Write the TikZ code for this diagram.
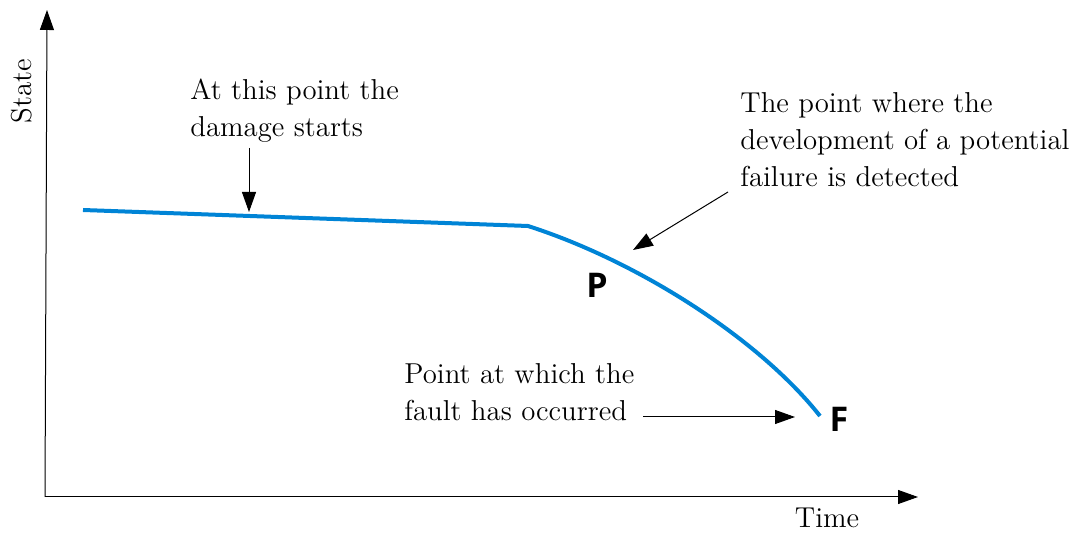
\documentclass[tikz,border=0pt]{standalone}
\usepackage{fontspec}
\newfontfamily\labelfont{Open Sans}
\usetikzlibrary{arrows.meta}
\definecolor{curveblue}{RGB}{0,132,214}
\begin{document}
\begin{tikzpicture}[x=0.5pt,y=-0.5pt,
  txt/.style={font=\fontsize{14.4}{18.5}\selectfont, inner sep=0pt, align=left},
  axis/.style={line width=0.5pt, -{Triangle[length=10pt,width=7pt]}},
  pointer/.style={line width=0.5pt, -{Triangle[length=10pt,width=7pt]}},
  pt/.style={font=\labelfont\bfseries\fontsize{17}{20}\selectfont, inner sep=0pt},
  curve/.style={curveblue, line width=2pt}]
\useasboundingbox (0,0) rectangle (1073,533);
% axes
\coordinate (O) at (45,497);
\coordinate (Ytop) at (47,10);
\coordinate (Xend) at (918,497);
\draw[axis] (O) -- (Ytop);
\draw[axis] (O) -- (Xend);
\node[txt, rotate=90] (state) at (22,91) {State};
\node[txt, anchor=base] (time) at (827,528) {Time};
% curve
\coordinate (c0) at (83,210);
\coordinate (c1) at (528,226);
\coordinate (c2) at (820,416);
\draw[curve] (c0) -- (c1) .. controls (640,262) and (760,340) .. (c2);
% labels
\node[pt] (P) at (597,285) {P};
\node[pt] (F) at (839,419) {F};
% annotations (base anchor = baseline of last line)
\node[txt, anchor=base west] (t1) at (190,137) {At this point the\\damage starts};
\node[txt, anchor=base west] (t2) at (740,187) {The point where the\\development of a potential\\failure is detected};
\node[txt, anchor=base west] (t3) at (404,421) {Point at which the\\fault has occurred};
\coordinate (a1s) at (249,148);
\coordinate (a1e) at (249,212);
\coordinate (a2s) at (728,192);
\coordinate (a2e) at (633,250);
\coordinate (a3s) at (643,417);
\coordinate (a3e) at (795,417);
\draw[pointer] (a1s) -- (a1e);
\draw[pointer] (a2s) -- (a2e);
\draw[pointer] (a3s) -- (a3e);
\end{tikzpicture}
\end{document}
